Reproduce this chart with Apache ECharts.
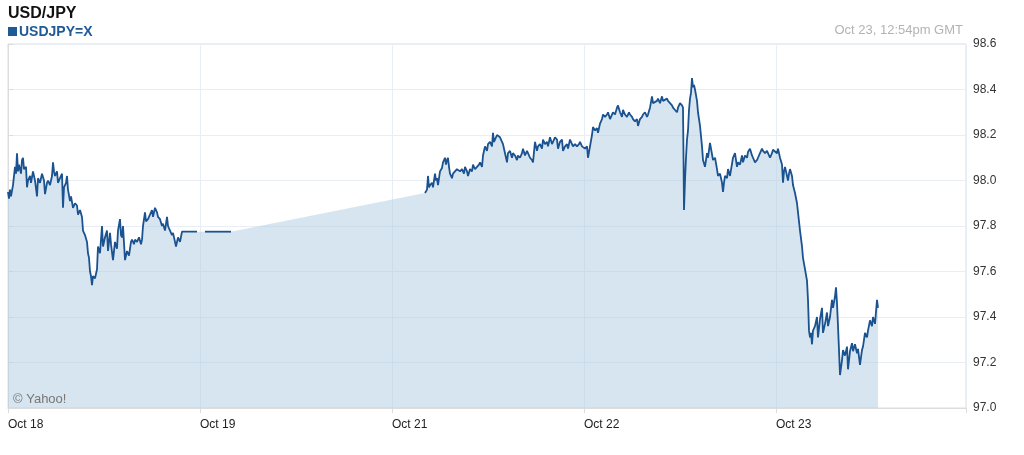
<!DOCTYPE html>
<html><head><meta charset="utf-8">
<script src="https://cdn.jsdelivr.net/npm/echarts@6/dist/echarts.min.js"></script>
<style>html,body{margin:0;padding:0;background:#fff}#c{width:1024px;height:455px}</style>
</head><body><div id="c"></div>
<script>
// x values: hours on the compressed trading timeline (24 h per labelled slot)
const tickLabels = ['Oct 18', 'Oct 19', 'Oct 21', 'Oct 22', 'Oct 23'];
const rateTicks = [97.0, 97.2, 97.4, 97.6, 97.8, 98.0, 98.2, 98.4, 98.6];

const oct18Hours = [
 0,0.125,0.25,0.375,0.625,0.875,1,1.125,1.25,1.375,
 1.625,1.75,1.875,2,2.25,2.375,2.5,2.75,2.875,3.125,
 3.375,3.625,3.75,4,4.25,4.5,4.625,4.875,5,5.25,
 5.5,5.625,5.75,5.875,6.125,6.25,6.5,6.75,6.875,7,
 7.25,7.375,7.5,7.75,7.875,8.125,8.375,8.625,8.75,9,
 9.25,9.375,9.625,9.875,10,10.125,10.25,10.375,10.5,10.625,
 10.875,11.125,11.25,11.5,11.625,11.75,11.875,12.125,12.375,12.5,
 12.75,12.875,13.125,13.375,13.625,13.75,14,14.125,14.25,14.375,
 14.625,14.875,15.125,15.375,15.5,15.75,15.875,16.125,16.375,16.625,
 16.75,16.875,17.125,17.25,17.5,17.75,18,18.125,18.375,18.625,
 18.75,19,19.25,19.375,19.625,19.875,20,20.25,20.5,20.625,
 20.875,21,21.25,21.5,21.75,23.625
];
const oct18Rates = [
 97.95,97.92,97.96,97.93,97.98,98.06,98.03,98.12,98.04,98.07,
 98.03,98.09,98.10,98.05,98.06,97.97,98.00,98.02,97.99,98.04,
 98.00,97.93,98.01,97.99,98.03,98.00,97.94,97.99,98.00,97.98,
 98.02,98.08,98.04,98.02,98.04,97.99,98.01,98.03,97.88,97.97,
 97.99,98.02,97.96,97.91,97.93,97.88,97.90,97.89,97.85,97.87,
 97.84,97.78,97.76,97.73,97.68,97.66,97.60,97.58,97.54,97.58,
 97.57,97.61,97.71,97.68,97.74,97.80,97.71,97.75,97.78,97.69,
 97.77,97.72,97.65,97.73,97.70,97.78,97.83,97.76,97.75,97.80,
 97.65,97.69,97.67,97.73,97.74,97.72,97.74,97.73,97.75,97.72,
 97.74,97.80,97.86,97.82,97.83,97.85,97.87,97.84,97.88,97.86,
 97.84,97.83,97.80,97.81,97.78,97.84,97.80,97.78,97.76,97.77,
 97.73,97.71,97.75,97.73,97.775,97.775
];

const weekendHours = [24.625, 27.875];
const weekendRates = [97.775, 97.775];

const mainHours = [
 52.125,52.375,52.5,52.625,52.75,53,53.125,53.375,53.5,53.625,
 53.75,54,54.25,54.375,54.625,54.75,54.875,55,55.125,55.25,
 55.5,55.625,55.875,56.125,56.25,56.5,56.75,57,57.125,57.375,
 57.5,57.75,58,58.125,58.375,58.625,58.875,59,59.25,59.375,
 59.625,59.875,60,60.25,60.5,60.625,60.75,60.875,61.125,61.25,
 61.5,61.75,61.875,62.125,62.375,62.5,62.75,63,63.125,63.375,
 63.625,63.75,64,64.25,64.375,64.625,64.875,65,65.25,65.5,
 65.625,65.875,66.125,66.25,66.5,66.75,66.875,67.125,67.375,67.5,
 67.75,68,68.125,68.375,68.625,68.75,69,69.25,69.375,69.625,
 69.875,70,70.25,70.5,70.625,70.875,71.125,71.375,71.5,71.75,
 71.875,72.125,72.375,72.5,72.75,73,73.125,73.375,73.625,73.75,
 74,74.25,74.375,74.625,74.875,75,75.25,75.5,75.625,75.875,
 76.125,76.25,76.5,76.75,76.875,77.125,77.375,77.625,77.75,78,
 78.125,78.375,78.625,78.75,79,79.25,79.375,79.625,79.875,80,
 80.25,80.5,80.625,80.875,81.125,81.25,81.5,81.75,81.875,82.125,
 82.375,82.5,82.75,83,83.125,83.375,83.625,83.75,84,84.25,
 84.375,84.44,84.5,84.625,84.75,84.875,85,85.125,85.25,85.375,
 85.5,85.625,85.75,85.875,86.125,86.25,86.5,86.75,86.875,87.125,
 87.375,87.5,87.75,88,88.125,88.375,88.625,88.75,89,89.25,
 89.375,89.5,89.625,89.875,90,90.25,90.5,90.625,90.875,91.125,
 91.25,91.5,91.75,91.875,92.125,92.375,92.5,92.75,93,93.125,
 93.375,93.625,93.75,94,94.25,94.375,94.625,94.875,95,95.25,
 95.5,95.625,95.875,96.125,96.25,96.5,96.75,96.875,97,97.125,
 97.375,97.5,97.625,97.75,98,98.125,98.375,98.625,98.75,99,
 99.25,99.375,99.625,99.875,100,100.125,100.25,100.375,100.5,100.625,
 100.875,101.125,101.25,101.5,101.75,101.875,102.125,102.375,102.5,102.75,
 103,103.125,103.375,103.5,103.625,103.75,103.875,104,104.25,104.375,
 104.625,104.875,105,105.25,105.5,105.625,105.875,106.125,106.25,106.5,
 106.75,106.875,107.125,107.375,107.5,107.75,108,108.125,108.375,108.625,
 108.75
];
const mainRates = [
 97.945,97.96,98.02,97.97,97.98,97.99,97.97,98.03,98.00,98.01,
 97.98,98.04,98.055,98.08,98.10,98.07,98.09,98.10,98.06,98.03,
 98.01,98.03,98.04,98.05,98.055,98.04,98.05,98.03,98.06,98.04,
 98.02,98.05,98.04,98.07,98.05,98.06,98.07,98.08,98.06,98.11,
 98.15,98.13,98.16,98.17,98.15,98.21,98.17,98.18,98.20,98.20,
 98.19,98.17,98.16,98.12,98.08,98.12,98.13,98.10,98.12,98.11,
 98.09,98.11,98.10,98.12,98.14,98.11,98.13,98.12,98.10,98.09,
 98.08,98.17,98.13,98.15,98.16,98.14,98.18,98.16,98.17,98.15,
 98.19,98.16,98.17,98.19,98.18,98.14,98.17,98.18,98.13,98.15,
 98.16,98.14,98.18,98.16,98.15,98.16,98.15,98.16,98.17,98.15,
 98.15,98.14,98.15,98.10,98.15,98.20,98.235,98.22,98.23,98.21,
 98.25,98.27,98.29,98.28,98.29,98.30,98.27,98.29,98.30,98.29,
 98.32,98.33,98.30,98.28,98.31,98.29,98.28,98.30,98.29,98.28,
 98.27,98.26,98.27,98.24,98.27,98.28,98.29,98.30,98.28,98.29,
 98.32,98.37,98.34,98.345,98.35,98.36,98.34,98.37,98.35,98.345,
 98.36,98.35,98.34,98.33,98.32,98.31,98.30,98.32,98.34,98.33,
 98.32,98.10,97.87,98.00,98.10,98.18,98.22,98.31,98.36,98.385,
 98.45,98.41,98.42,98.40,98.35,98.30,98.24,98.15,98.09,98.06,
 98.12,98.10,98.165,98.16,98.09,98.10,98.05,98.02,98.03,97.99,
 97.95,97.99,98.02,98.01,98.05,98.02,98.02,98.10,98.12,98.06,
 98.08,98.07,98.11,98.08,98.11,98.10,98.125,98.14,98.11,98.10,
 98.08,98.09,98.10,98.12,98.14,98.13,98.12,98.13,98.12,98.10,
 98.12,98.135,98.13,98.12,98.14,98.10,98.07,97.99,98.04,98.06,
 98.02,98.00,98.03,98.05,98.02,97.98,97.945,97.90,97.86,97.78,
 97.71,97.66,97.61,97.56,97.475,97.34,97.31,97.33,97.28,97.34,
 97.36,97.40,97.31,97.39,97.44,97.33,97.37,97.42,97.36,97.40,
 97.475,97.44,97.49,97.53,97.46,97.36,97.255,97.145,97.21,97.255,
 97.23,97.27,97.17,97.25,97.285,97.25,97.28,97.24,97.26,97.19,
 97.255,97.27,97.33,97.31,97.34,97.385,97.36,97.40,97.37,97.475,
 97.44
];

function zip(xs, ys) { return xs.map((x, i) => [x, ys[i]]); }
const oct18Data = zip(oct18Hours, oct18Rates);
const weekendData = zip(weekendHours, weekendRates);
const mainData = zip(mainHours, mainRates);
const areaData = oct18Data.concat(weekendData, mainData);

const FONT = '"Liberation Sans", Arial, Helvetica, sans-serif';
const LINE = '#1b5290';

const chart = echarts.init(document.getElementById('c'), null, { renderer: 'canvas' });
const lineSeries = d => ({
  type: 'line', data: d, showSymbol: false, symbol: 'none', sampling: null,
  lineStyle: { color: LINE, width: 1.8 }, z: 3, silent: true
});
chart.setOption({
  animation: false,
  grid: { left: 8, right: 58, top: 44, bottom: 47, show: true, borderColor: '#dcdcdc', borderWidth: 1 },
  xAxis: {
    type: 'value', min: 0, max: 119.75, interval: 24,
    axisLine: { show: true, lineStyle: { color: '#dcdcdc' } },
    axisTick: { show: true, length: 5, lineStyle: { color: '#dcdcdc' } },
    axisLabel: {
      formatter: v => { const i = v / 24; return Number.isInteger(i) && i < tickLabels.length ? tickLabels[i] : ''; },
      align: 'left', color: '#222', fontSize: 12, fontFamily: FONT, margin: 11
    },
    splitLine: { show: true, lineStyle: { color: '#e8eef3' } }
  },
  yAxis: {
    type: 'value', position: 'right', min: rateTicks[0], max: rateTicks[rateTicks.length - 1], interval: 0.2,
    axisLine: { show: true, lineStyle: { color: '#dcdcdc' } },
    axisTick: { show: true, length: 5, lineStyle: { color: '#dcdcdc' } },
    axisLabel: { formatter: v => v.toFixed(1), color: '#333', fontSize: 12, fontFamily: FONT, margin: 7 },
    splitLine: { show: true, lineStyle: { color: '#e8eef3' } }
  },
  graphic: [
    { type: 'text', left: 8, top: 6, z: 100, style: { text: 'USD/JPY', font: 'bold 16px ' + FONT, fill: '#111' } },
    { type: 'rect', left: 8, top: 27, z: 100, shape: { width: 9, height: 9 }, style: { fill: '#1f5a96' } },
    { type: 'text', left: 19, top: 25, z: 100, style: { text: 'USDJPY=X', font: 'bold 14px ' + FONT, fill: '#1f5a96' } },
    { type: 'text', right: 61, top: 24, z: 100, style: { text: 'Oct 23, 12:54pm GMT', font: '13px ' + FONT, fill: '#b3b3b3' } },
    { type: 'text', left: 13, top: 393, z: 100, style: { text: '© Yahoo!', font: '13px ' + FONT, fill: '#777' } }
  ],
  series: [
    {
      type: 'line', data: areaData, showSymbol: false, symbol: 'none', sampling: null, silent: true,
      lineStyle: { width: 0, opacity: 0 },
      areaStyle: { color: 'rgba(173,203,225,0.5)', opacity: 1, origin: 'start' }, z: 2
    },
    lineSeries(oct18Data),
    lineSeries(weekendData),
    lineSeries(mainData)
  ]
});
</script></body></html>
